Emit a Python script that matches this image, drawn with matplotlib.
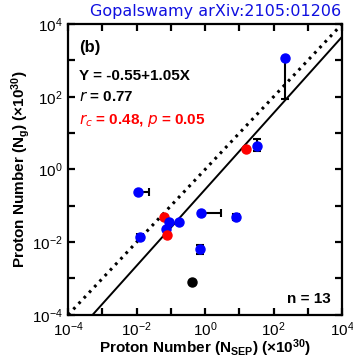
import numpy as np
import matplotlib.pyplot as plt

plt.rcParams['font.family'] = ['Liberation Sans', 'DejaVu Sans']
plt.rcParams['mathtext.default'] = 'regular'

# log10 of proton numbers (x 1e30)
log_nsep = [2.32, 1.19, 1.53, -1.97, -0.13, 0.90, -1.19, -1.05, -0.75, -1.14, -1.11, -1.90, -0.15, -0.39]
log_ng = [3.06, 0.57, 0.65, -0.62, -1.21, -1.31, -1.30, -1.45, -1.44, -1.63, -1.81, -1.86, -2.20, -3.10]
colors = ['blue', 'red', 'blue', 'blue', 'blue', 'blue', 'red', 'blue', 'blue', 'blue', 'red', 'blue', 'blue', 'black']

# error bar extents in log10 units
err_x_lo = [0, 0, 0, 0, 0, 0.09, 0, 0, 0, 0, 0, 0.08, 0, 0]
err_x_hi = [0, 0, 0, 0.34, 0.60, 0.09, 0, 0, 0, 0.08, 0, 0.08, 0, 0]
err_y_lo = [1.13, 0, 0.14, 0, 0, 0.08, 0, 0, 0, 0.07, 0, 0.07, 0.12, 0]
err_y_hi = [0, 0, 0.19, 0, 0, 0.08, 0, 0, 0, 0, 0, 0.07, 0.12, 0]

fit_a, fit_b = -0.55, 1.05

fig = plt.figure(figsize=(3.53, 3.59), dpi=100)
ax = fig.add_axes([0.193, 0.123, 0.776, 0.810])
ax.set_xscale('log')
ax.set_yscale('log')
ax.set_xlim(1e-4, 1e4)
ax.set_ylim(1e-4, 1e4)

xs = np.array([-4.0, 4.0])
ax.plot(10**xs, 10**xs, color='black', linestyle=(0, (0.9, 1.6)), linewidth=2.2)
ax.plot(10**xs, 10**(fit_a + fit_b * xs), color='black', linewidth=1.4)

for i in range(len(log_nsep)):
    x, y = log_nsep[i], log_ng[i]
    if err_x_lo[i] or err_x_hi[i]:
        ax.errorbar(10**x, 10**y,
                    xerr=[[10**x - 10**(x - err_x_lo[i])], [10**(x + err_x_hi[i]) - 10**x]],
                    fmt='none', ecolor='black', elinewidth=1.5, capsize=3, capthick=1.5)
    if err_y_lo[i] or err_y_hi[i]:
        ax.errorbar(10**x, 10**y,
                    yerr=[[10**y - 10**(y - err_y_lo[i])], [10**(y + err_y_hi[i]) - 10**y]],
                    fmt='none', ecolor='black', elinewidth=1.5, capsize=3, capthick=1.5)
    ax.plot(10**x, 10**y, 'o', color=colors[i], markersize=6.5, zorder=5)

for side in ax.spines.values():
    side.set_linewidth(1.6)

ticks = [10.0**k for k in range(-4, 5)]
labels = [r'10$^{%d}$' % k if k % 2 == 0 else '' for k in range(-4, 5)]
ax.set_xticks(ticks)
ax.set_xticklabels(labels)
ax.set_yticks(ticks)
ax.set_yticklabels(labels)
ax.minorticks_off()
ax.tick_params(which='major', direction='in', length=5, width=1.6, top=True, right=True,
               labelsize=11, pad=4)

ax.set_xlabel(r'Proton Number (N$_{SEP}$) ($\times$10$^{30}$)', fontsize=11, fontweight='bold', labelpad=-1)
ax.set_ylabel(r'Proton Number (N$_{g}$) ($\times$10$^{30}$)', fontsize=11, fontweight='bold', labelpad=0)

ax.text(0.04, 0.945, '(b)', transform=ax.transAxes, fontsize=12, fontweight='bold', va='top')
ax.text(0.04, 0.845, 'Y = -0.55+1.05X', transform=ax.transAxes, fontsize=11, fontweight='bold', va='top')
ax.text(0.04, 0.772, r'$\it{r}$ = 0.77', transform=ax.transAxes, fontsize=11, fontweight='bold', va='top')
ax.text(0.04, 0.698, r'$\it{r_c}$ = 0.48, $\it{p}$ = 0.05', transform=ax.transAxes, fontsize=11,
        fontweight='bold', color='red', va='top')
ax.text(0.96, 0.03, 'n = 13', transform=ax.transAxes, fontsize=11, fontweight='bold', ha='right', va='bottom')

fig.text(0.965, 0.99, 'Gopalswamy arXiv:2105:01206', color='#1010e0', fontsize=11.5,
         family='DejaVu Sans', ha='right', va='top')

fig.savefig('out.png', dpi=100)
